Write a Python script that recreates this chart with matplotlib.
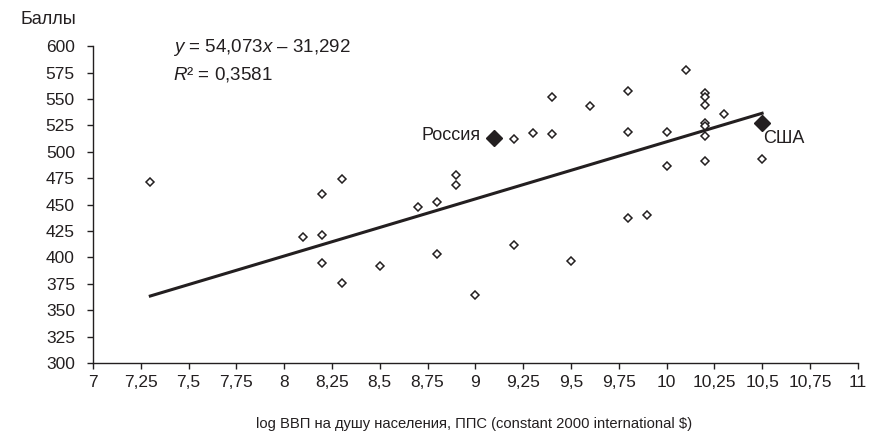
import numpy as np
import matplotlib.pyplot as plt

plt.rcParams['font.family'] = ['Liberation Sans', 'DejaVu Sans']
plt.rcParams['mathtext.fontset'] = 'custom'
plt.rcParams['mathtext.rm'] = 'Liberation Sans'
plt.rcParams['mathtext.it'] = 'Liberation Sans:italic'

# Other countries: log GDP per capita (PPP) and score
x_other = [7.3, 8.1, 8.2, 8.2, 8.2, 8.3, 8.3, 8.5, 8.7, 8.8, 8.8, 8.9, 8.9, 9.0,
           9.2, 9.2, 9.3, 9.4, 9.4, 9.5, 9.6, 9.8, 9.8, 9.8, 9.9, 10.0, 10.0,
           10.1, 10.2, 10.2, 10.2, 10.2, 10.2, 10.2, 10.2, 10.3, 10.5]
y_other = [471, 419, 460, 421, 395, 474, 376, 392, 448, 452, 403, 478, 469, 364,
           512, 412, 518, 552, 517, 397, 543, 558, 519, 437, 440, 519, 487,
           577, 556, 552, 544, 527, 524, 515, 491, 536, 493]

# Highlighted countries
hl_names = ['Россия', 'США']
hl_x = [9.1, 10.5]
hl_y = [513, 527]

# Trend line y = 54,073x - 31,292
slope = 54.073
intercept = -31.292
r2 = 0.3581

x_ticks = [7, 7.25, 7.5, 7.75, 8, 8.25, 8.5, 8.75, 9, 9.25, 9.5, 9.75, 10, 10.25, 10.5, 10.75, 11]
y_ticks = list(range(300, 601, 25))

ink = '#231f20'

fig = plt.figure(figsize=(8.77, 4.34), dpi=100)
ax = fig.add_axes([0.106, 0.1636, 0.872, 0.730])

# trend line over the data range
all_x = np.array(x_other + hl_x)
xl = np.array([all_x.min(), all_x.max()])
ax.plot(xl, slope * xl + intercept, color=ink, lw=2.2, zorder=2)

ax.plot(x_other, y_other, linestyle='none', marker='D', markersize=4.4,
        markerfacecolor='white', markeredgecolor=ink, markeredgewidth=1.1, zorder=3)
ax.plot(hl_x, hl_y, linestyle='none', marker='D', markersize=8.5,
        markerfacecolor=ink, markeredgecolor=ink, zorder=4)

ax.annotate(hl_names[0], (hl_x[0], hl_y[0]), xytext=(-10, 2), textcoords='offset points',
            ha='right', va='center', fontsize=13, color=ink)
ax.annotate(hl_names[1], (hl_x[1], hl_y[1]), xytext=(1, -11), textcoords='offset points',
            ha='left', va='center', fontsize=13, color=ink)

ax.set_xlim(7, 11)
ax.set_ylim(300, 600)
ax.set_xticks(x_ticks)
ax.set_xticklabels([('%g' % t).replace('.', ',') for t in x_ticks])
ax.set_yticks(y_ticks)
ax.tick_params(labelsize=12.5, colors=ink, length=4, width=1)
ax.tick_params(axis='x', pad=5)
ax.tick_params(axis='y', pad=9)
for s in ['top', 'right']:
    ax.spines[s].set_visible(False)
for s in ['left', 'bottom']:
    ax.spines[s].set_color(ink)
    ax.spines[s].set_linewidth(1)

fig.text(20 / 877, 1 - 20 / 434, 'Баллы', fontsize=13, color=ink, va='center', ha='left')
fig.text(173 / 877, 1 - 48 / 434,
         r'$y$ = ' + ('%.3f' % slope).replace('.', ',') + r'$x$ – ' + ('%.3f' % -intercept).replace('.', ','),
         fontsize=13.5, color=ink, va='center', ha='left')
fig.text(173 / 877, 1 - 74 / 434, r'$R$' + '² = ' + ('%.4f' % r2).replace('.', ','),
         fontsize=13.5, color=ink, va='center', ha='left')
fig.text(474 / 877, 1 - 424 / 434, 'log ВВП на душу населения, ППС (constant 2000 international $)',
         fontsize=10.6, color=ink, va='center', ha='center')

fig.savefig('out.png', dpi=100)
